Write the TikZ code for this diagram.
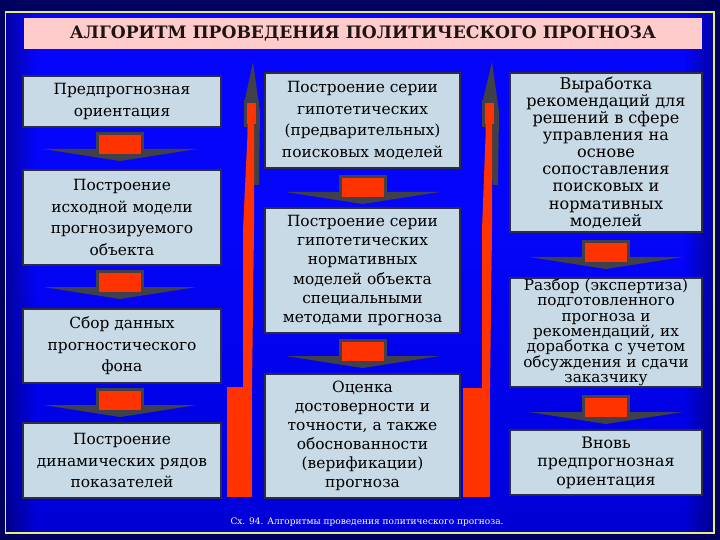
\documentclass[tikz,border=0pt]{standalone}
\usepackage{fontspec}
\setmainfont{DejaVu Serif}[Scale=0.86]
\usetikzlibrary{calc,fadings}
\definecolor{boxfill}{RGB}{200,218,230}
\definecolor{boxedge}{RGB}{45,45,65}
\definecolor{arrred}{RGB}{255,51,0}
\definecolor{arrdark}{RGB}{64,64,72}
\definecolor{titlepink}{RGB}{255,204,204}
\definecolor{framey}{RGB}{235,235,120}
\definecolor{outerbg}{RGB}{0,0,95}
\definecolor{bgA}{RGB}{0,0,96}
\definecolor{bgB}{RGB}{0,0,165}
\definecolor{bgC}{RGB}{0,0,225}
\definecolor{bgD}{RGB}{5,5,250}
\definecolor{bgT}{RGB}{0,0,140}
\pgfdeclareverticalshading{bgsh}{100bp}{color(0bp)=(bgA); color(10bp)=(bgB); color(30bp)=(bgC); color(55bp)=(bgD); color(80bp)=(bgD); color(90bp)=(bgB); color(100bp)=(bgT)}
\newcommand\downblk[2]{%
  \fill[arrdark] (#1-77,#2+17) -- (#1+77,#2+17) -- (#1,#2+29) -- cycle;
  \fill[arrdark] (#1-24,#2) rectangle (#1+24,#2+23);
  \fill[arrred] (#1-21,#2+3) rectangle (#1+21,#2+22);
}
\tikzset{
  box/.style={draw=boxedge, line width=2bp, fill=boxfill, align=center, inner sep=0pt, text=black},
  fa/.style={font=\fontsize{18}{21.5}\selectfont},
  fb/.style={font=\fontsize{18}{19.2}\selectfont},
  fc/.style={font=\fontsize{18.8}{17.2}\selectfont},
  fd/.style={font=\fontsize{17.8}{15.2}\selectfont},
  fe/.style={font=\fontsize{18.5}{18.5}\selectfont},
  lcol/.style={box, minimum width=198bp},
  mcol/.style={box, minimum width=195bp},
  rcol/.style={box, minimum width=192bp},
}
\begin{document}
\begin{tikzpicture}[x=1bp,y=-1bp]
\useasboundingbox (0,0) rectangle (720,540);
\fill[outerbg] (0,0) rectangle (720,540);
\shade[shading=bgsh] (6,12) rectangle (714,533);
\fill[black, path fading=east, opacity=0.35] (6,12) rectangle (36,533);
\fill[black, path fading=west, opacity=0.35] (684,12) rectangle (714,533);
\draw[framey, line width=1.5bp] (5.5,12) rectangle (714,533);

% title
\node[fill=titlepink, minimum width=678bp, minimum height=31bp, inner sep=0pt,
  text={rgb,255:red,30;green,20;blue,20}, font=\bfseries\fontsize{20}{24}\selectfont] (T) at (363,33.5)
  {АЛГОРИТМ ПРОВЕДЕНИЯ ПОЛИТИЧЕСКОГО ПРОГНОЗА};

% vertical arrows (left)
\fill[arrdark] (253,62) -- (260,112) -- (259,185) -- (254,185) -- (244,104) -- cycle;
\fill[arrdark] (244,100) rectangle (259,127);
\fill[arrred] (247,103) rectangle (256,124);
\fill[arrred] (248,124) -- (254,124) -- (254,230) -- (252,387) -- (243,387) -- (243,230) -- cycle;
\fill[arrred] (227,387) rectangle (252,497);
% vertical arrows (right)
\fill[arrdark] (492,62) -- (499,112) -- (498,185) -- (493,185) -- (482,104) -- cycle;
\fill[arrdark] (482,100) rectangle (497,127);
\fill[arrred] (485,103) rectangle (494,124);
\fill[arrred] (486,124) -- (492,124) -- (492,230) -- (490,388) -- (482,388) -- (482,230) -- cycle;
\fill[arrred] (463,388) rectangle (490,497);

% boxes left
\node[lcol, fa, minimum height=51bp] (L1) at (122,101.5) {Предпрогнозная\\ориентация};
\node[lcol, fa, minimum height=95bp] (L2) at (122,217.5) {Построение\\исходной модели\\прогнозируемого\\объекта};
\node[lcol, fa, minimum height=74bp] (L3) at (122,346) {Сбор данных\\прогностического\\фона};
\node[lcol, fa, minimum height=75bp] (L4) at (122,460.5) {Построение\\динамических рядов\\показателей};
% boxes middle
\node[mcol, fa, minimum height=95bp] (M1) at (362.5,120.5) {Построение серии\\гипотетических\\(предварительных)\\поисковых моделей};
\node[mcol, fb, minimum height=125bp] (M2) at (362.5,270.5) {Построение серии\\гипотетических\\нормативных\\моделей объекта\\специальными\\методами прогноза};
\node[mcol, fb, minimum height=124bp] (M3) at (362.5,436) {Оценка\\достоверности и\\точности, а также\\обоснованности\\(верификации)\\прогноза};
% boxes right
\node[rcol, fc, minimum height=159bp] (R1) at (606,152.5) {Выработка\\рекомендаций для\\решений в сфере\\управления на\\основе\\сопоставления\\поисковых и\\нормативных\\моделей};
\node[rcol, fd, minimum height=109bp] (R2) at (606,332.5) {Разбор (экспертиза)\\подготовленного\\прогноза и\\рекомендаций, их\\доработка с учетом\\обсуждения и сдачи\\заказчику};
\node[rcol, fe, minimum height=65bp] (R3) at (606,462.5) {Вновь\\предпрогнозная\\ориентация};

% block arrows between boxes
\downblk{120}{132}
\downblk{120}{270}
\downblk{120}{388}
\downblk{362.5}{175}
\downblk{362.5}{339}
\downblk{606}{240}
\downblk{606}{395}

% caption
\node[text=white, inner sep=0pt, font=\fontsize{10.5}{12}\selectfont] (C) at (367,522)
  {Сх. 94. Алгоритмы проведения политического прогноза.};
\end{tikzpicture}
\end{document}
